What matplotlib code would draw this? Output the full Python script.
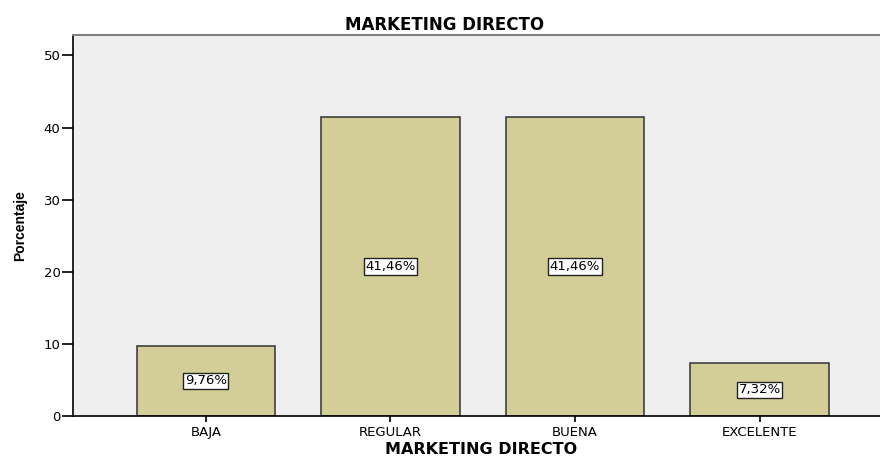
import matplotlib.pyplot as plt
import numpy as np

categorias = ["BAJA", "REGULAR", "BUENA", "EXCELENTE"]
porcentajes = [9.76, 41.46, 41.46, 7.32]
etiquetas = ["9,76%", "41,46%", "41,46%", "7,32%"]

plt.rcParams['font.family'] = ['DejaVu Sans']

fig = plt.figure(figsize=(8.8, 4.57), dpi=100)
# el panel sigue un poco mas alla del borde derecho (recortado)
ax = fig.add_axes([0.083, 0.0897, 0.929, 0.8333])
ax.set_facecolor("#efefef")

x = np.arange(len(categorias))
ax.bar(x, porcentajes, width=0.75, color="#d3ce97", edgecolor="#404040", linewidth=1.2, zorder=2)

for xi, v, t in zip(x, porcentajes, etiquetas):
    ax.text(xi, v / 2, t, ha="center", va="center", fontsize=9.5, zorder=3,
            bbox=dict(boxstyle="square,pad=0.12", facecolor="white", edgecolor="#222222", linewidth=1.0))

ax.set_xlim(-0.72, 3.71)
ax.set_ylim(0, 52.8)
ax.set_yticks([0, 10, 20, 30, 40, 50])
ax.set_xticks(x)
ax.set_xticklabels(categorias, fontsize=9.5)
ax.tick_params(axis="y", labelsize=9.5, length=8, width=1.2, direction="out", pad=1)
ax.tick_params(axis="x", length=4, width=1.2, direction="out", pad=3)

ax.spines["right"].set_visible(False)
ax.spines["top"].set_color("#808080")
ax.spines["top"].set_linewidth(1.5)
ax.spines["left"].set_linewidth(1.2)
ax.spines["bottom"].set_linewidth(1.2)

fig.text(445 / 880, 1 - 30 / 457, "MARKETING DIRECTO", ha="center", va="baseline",
         fontsize=12, fontweight="bold")
fig.text(481 / 880, 2.5 / 457, "MARKETING DIRECTO", ha="center", va="baseline",
         fontsize=11.5, fontweight="bold")
ax.set_ylabel("Porcentaje", fontsize=10, fontweight="bold",
              family=["Liberation Sans", "DejaVu Sans"], labelpad=12)

fig.savefig("out.png", dpi=100)
